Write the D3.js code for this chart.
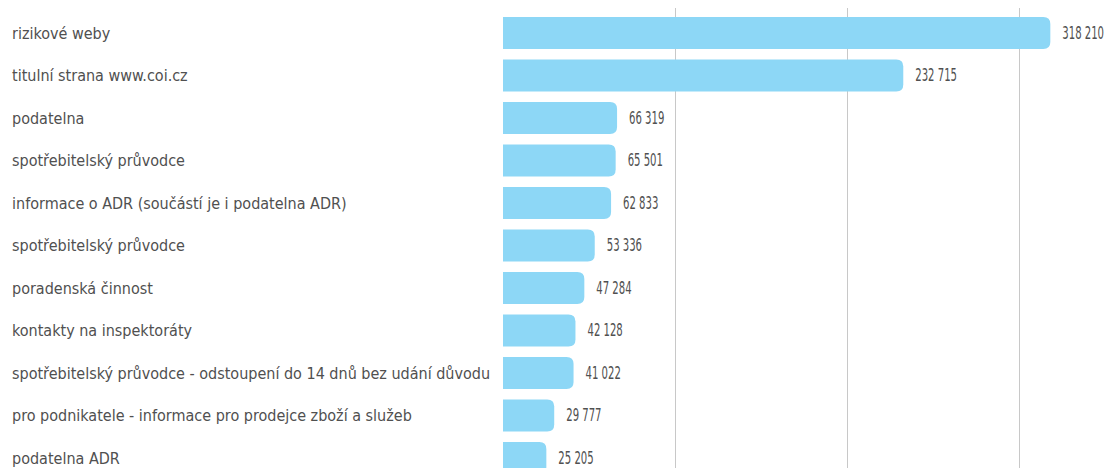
<!DOCTYPE html>
<meta charset="utf-8">
<script src="https://d3js.org/d3.v7.min.js"></script>
<style>
body { margin: 0; background: #fff; }
.graf text { fill: #505050; }
.graf .mrizka line { stroke: #c8c8c8; stroke-width: 1; }
.graf .sloupec { fill: #8dd7f6; }
</style>
<body>
<div id="canvas"></div>
<script>

// stranky webu a pocet navstev
var stranky = [
  "rizikové weby",
  "titulní strana www.coi.cz",
  "podatelna",
  "spotřebitelský průvodce",
  "informace o ADR (součástí je i podatelna ADR)",
  "spotřebitelský průvodce",
  "poradenská činnost",
  "kontakty na inspektoráty",
  "spotřebitelský průvodce - odstoupení do 14 dnů bez udání důvodu",
  "pro podnikatele - informace pro prodejce zboží a služeb",
  "podatelna ADR"
];
var navstevy = [318210, 232715, 66319, 65501, 62833, 53336, 47284, 42128, 41022, 29777, 25205];
var mrizka = [100000, 200000, 300000];

var width = 1108;
var height = 468;
var margin = {left: 503, top: 8};
var pismo = "'DejaVu Sans Condensed', 'DejaVu Sans', sans-serif";

var svg = d3.select("#canvas")
  .append("svg")
  .attr("width", width)
  .attr("height", height);

var g = svg.append("g").attr("class", "graf");

// osa X
var x = d3.scaleLinear()
  .domain([0, 100000])
  .range([margin.left, margin.left + 172]);

// osa Y - radky
var idx = d3.range(stranky.length);
var y = d3.scaleBand()
  .domain(idx)
  .range([11.7, 11.7 + 42.5 * stranky.length])
  .paddingInner(0.25)
  .paddingOuter(0.125);

// mrizka
g.append("g").attr("class", "mrizka")
  .selectAll("line")
  .data(mrizka)
  .enter().append("line")
  .attr("x1", function(d) { return Math.round(x(d)) + 0.5; })
  .attr("x2", function(d) { return Math.round(x(d)) + 0.5; })
  .attr("y1", margin.top)
  .attr("y2", height);

// sloupce - zaoblene jen vpravo
var r = 7;
function sloupec(i) {
  var x0 = x(0), x1 = x(navstevy[i]), y0 = y(i), h = y.bandwidth();
  var p = d3.path();
  p.moveTo(x0, y0);
  p.lineTo(x1 - r, y0);
  p.quadraticCurveTo(x1, y0, x1, y0 + r);
  p.lineTo(x1, y0 + h - r);
  p.quadraticCurveTo(x1, y0 + h, x1 - r, y0 + h);
  p.lineTo(x0, y0 + h);
  p.closePath();
  return p.toString();
}

g.selectAll(".sloupec")
  .data(idx)
  .enter().append("path")
  .attr("class", "sloupec")
  .attr("d", sloupec);

// popisky kategorii
g.selectAll(".popisek")
  .data(idx)
  .enter().append("text")
  .attr("class", "popisek")
  .attr("x", 12)
  .attr("y", function(i) { return y(i) + y.bandwidth() / 2; })
  .attr("dy", "0.35em")
  .style("font-family", pismo)
  .style("font-size", "16px")
  .text(function(i) { return stranky[i]; });

// hodnoty
var fmt = function(v) { return d3.format(",")(v).replace(/,/g, " "); };
g.selectAll(".hodnota")
  .data(idx)
  .enter().append("text")
  .attr("class", "hodnota")
  .attr("transform", function(i) {
    return "translate(" + (x(navstevy[i]) + 12) + "," + (y(i) + y.bandwidth() / 2) + ") scale(0.66,1)";
  })
  .attr("dy", "0.35em")
  .style("font-family", pismo)
  .style("font-size", "17px")
  .text(function(i) { return fmt(navstevy[i]); });
</script>
</body>
